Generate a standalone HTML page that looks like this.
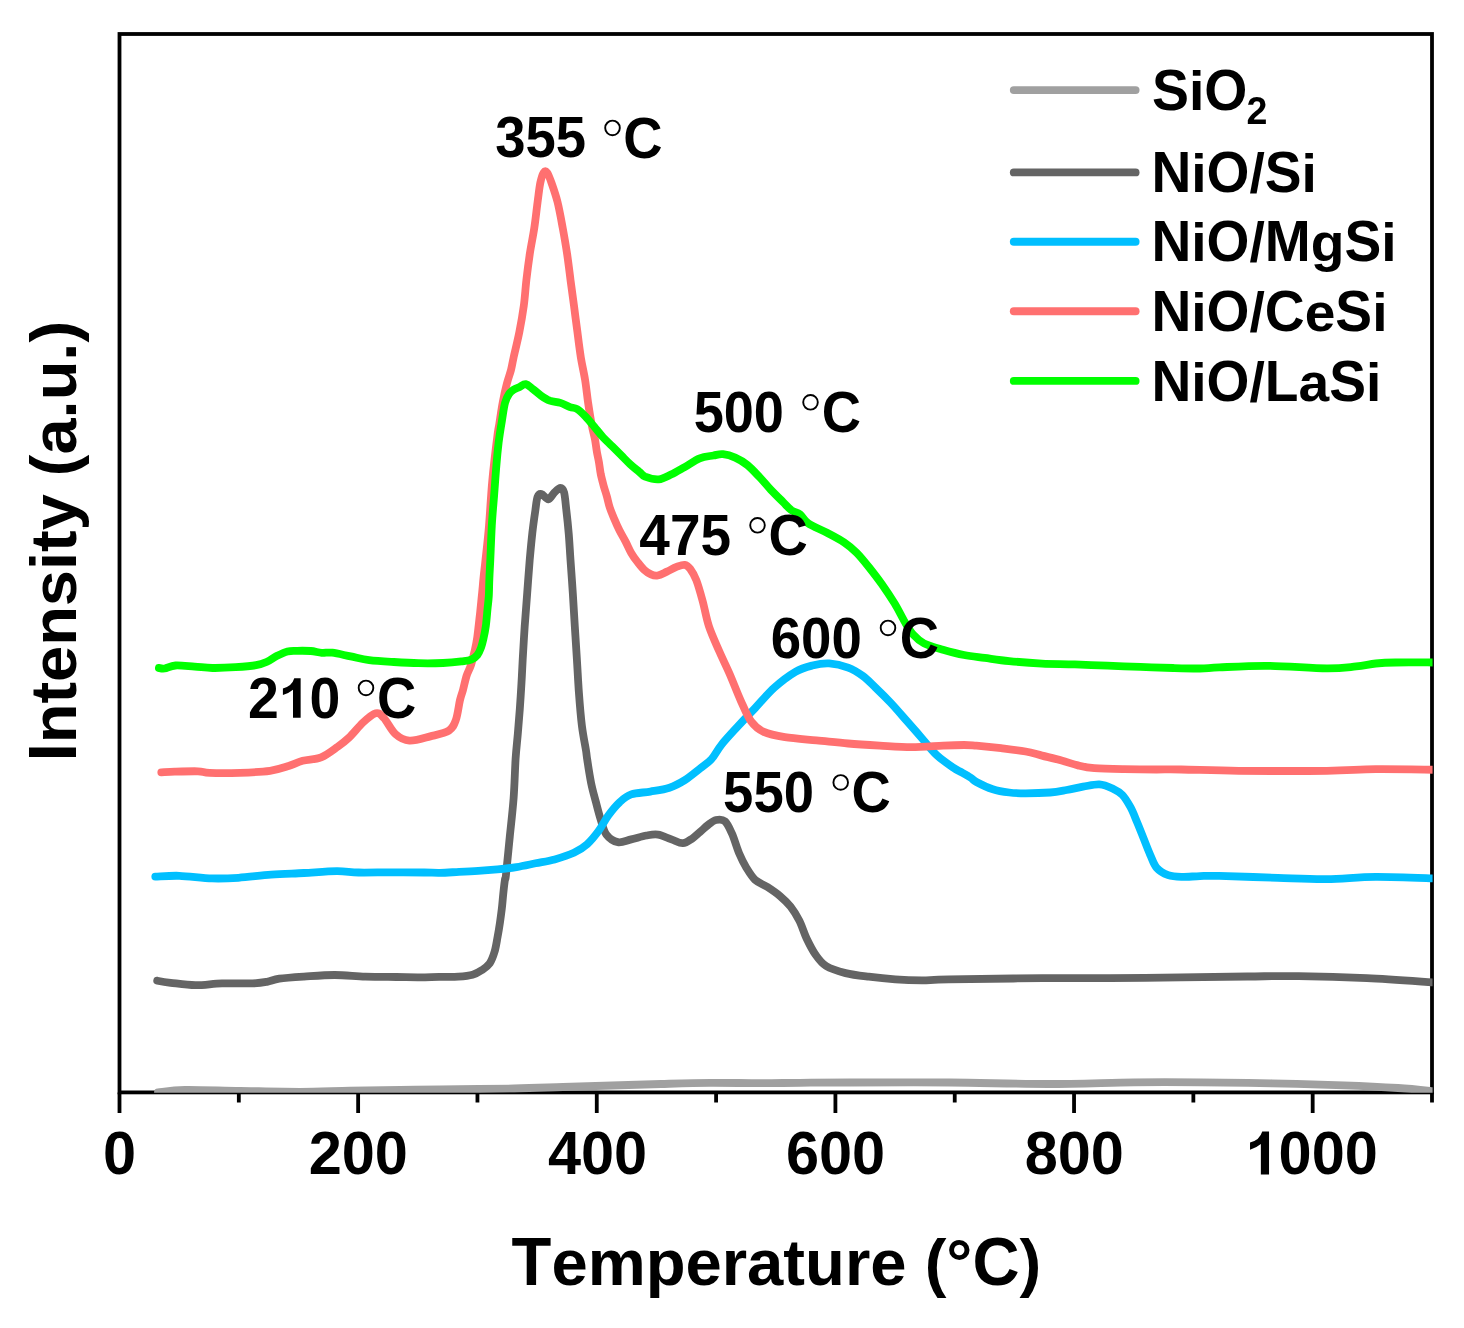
<!DOCTYPE html><html><head><meta charset="utf-8"><style>html,body{margin:0;padding:0;background:#fff;width:1464px;height:1328px;overflow:hidden}svg{display:block}text{font-family:"Liberation Sans",sans-serif;font-weight:bold;fill:#000;font-kerning:none;font-feature-settings:"kern" 0,"liga" 0}</style></head><body>
<svg width="1464" height="1328" viewBox="0 0 1464 1328">
<defs><clipPath id="pc"><rect x="119.5" y="34.0" width="1313.1" height="1058.8000000000002"/></clipPath></defs>
<rect x="119.5" y="34.0" width="1312.5" height="1058.4" fill="none" stroke="#000" stroke-width="3.8"/>
<path d="M119.50,1092.40V1112.90M238.82,1092.40V1102.40M358.14,1092.40V1112.90M477.45,1092.40V1102.40M596.77,1092.40V1112.90M716.09,1092.40V1102.40M835.41,1092.40V1112.90M954.73,1092.40V1102.40M1074.05,1092.40V1112.90M1193.36,1092.40V1102.40M1312.68,1092.40V1112.90M1432.00,1092.40V1102.40" stroke="#000" stroke-width="3.8" fill="none"/>
<g clip-path="url(#pc)" fill="none" stroke-width="7.8" stroke-linejoin="round" stroke-linecap="round">
<path d="M158.0,1092.3C162.5,1091.9 171.3,1090.1 185.0,1089.9C198.7,1089.7 220.8,1090.6 240.0,1090.9C259.2,1091.2 281.7,1091.8 300.0,1091.8C318.3,1091.8 333.3,1091.0 350.0,1090.7C366.7,1090.4 385.0,1090.1 400.0,1089.9C415.0,1089.7 421.0,1089.6 440.0,1089.4C459.0,1089.2 493.5,1088.9 514.0,1088.5C534.5,1088.1 546.7,1087.5 563.0,1087.0C579.3,1086.5 595.7,1086.0 612.0,1085.5C628.3,1085.0 644.7,1084.5 661.0,1084.0C677.3,1083.5 693.5,1082.9 710.0,1082.8C726.5,1082.7 745.0,1083.2 760.0,1083.2C775.0,1083.2 785.0,1082.9 800.0,1082.8C815.0,1082.7 825.0,1082.5 850.0,1082.5C875.0,1082.5 917.0,1082.2 950.0,1082.5C983.0,1082.8 1017.3,1084.0 1048.0,1084.0C1078.7,1084.0 1108.7,1082.6 1134.0,1082.3C1159.3,1082.0 1177.0,1082.1 1200.0,1082.3C1223.0,1082.5 1248.0,1082.8 1272.0,1083.3C1296.0,1083.8 1323.0,1084.5 1344.0,1085.3C1365.0,1086.1 1382.7,1087.0 1398.0,1088.0C1413.3,1089.0 1429.7,1090.9 1436.0,1091.5" stroke="#a0a0a0"/>
<path d="M157.2,980.7C159.4,981.1 164.3,982.0 170.7,982.8C177.0,983.5 186.8,985.1 195.3,985.2C203.9,985.3 212.4,983.7 222.0,983.4C231.6,983.1 245.2,983.7 252.7,983.4C260.2,983.1 262.6,982.6 267.0,981.8C271.4,981.0 273.2,979.6 279.3,978.7C285.4,977.8 294.7,977.2 303.9,976.6C313.1,976.0 324.4,975.0 334.7,975.0C344.9,975.0 355.2,976.3 365.4,976.6C375.6,976.9 387.0,976.9 396.1,977.0C405.2,977.1 412.8,977.3 420.0,977.3C427.2,977.3 432.7,976.9 439.1,976.8C445.5,976.7 452.7,977.0 458.3,976.6C463.9,976.2 468.6,975.8 472.6,974.7C476.6,973.6 479.3,971.8 482.2,969.9C485.1,968.0 487.7,966.2 489.8,963.2C491.9,960.2 493.3,956.0 494.6,951.7C495.9,947.4 496.6,942.2 497.5,937.4C498.4,932.6 499.2,927.8 499.9,923.0C500.6,918.2 501.2,913.5 501.8,908.7C502.4,903.9 502.7,899.1 503.2,894.3C503.7,889.5 504.4,883.3 504.9,880.0C505.4,876.7 505.2,882.0 506.0,874.7C506.8,867.5 508.5,849.2 509.8,836.5C511.1,823.8 512.6,811.2 513.6,798.2C514.6,785.2 514.9,769.5 515.6,758.8C516.3,748.1 517.1,742.3 517.8,734.0C518.5,725.7 519.2,717.4 519.8,709.1C520.4,700.8 520.9,692.6 521.4,684.3C521.9,676.0 522.2,669.1 522.7,659.4C523.2,649.7 524.0,637.3 524.7,626.3C525.5,615.2 526.4,604.1 527.2,593.1C528.0,582.1 528.9,570.0 529.7,560.0C530.6,550.0 531.4,541.5 532.3,533.3C533.2,525.1 534.4,516.8 535.3,510.7C536.2,504.6 536.5,499.8 537.5,497.0C538.5,494.2 539.7,493.6 541.5,494.0C543.3,494.4 546.2,499.5 548.3,499.3C550.4,499.1 552.3,494.5 554.3,492.6C556.3,490.7 558.8,488.0 560.4,488.0C562.0,488.0 563.1,488.8 564.1,492.6C565.1,496.4 565.6,503.9 566.4,510.7C567.2,517.5 568.0,525.1 568.7,533.3C569.4,541.5 569.8,550.0 570.5,560.0C571.2,570.0 572.1,582.1 572.8,593.1C573.5,604.1 574.1,615.2 574.8,626.3C575.5,637.3 576.2,648.4 576.9,659.4C577.6,670.4 578.1,681.5 578.9,692.5C579.7,703.5 580.7,716.0 581.9,725.7C583.1,735.4 585.1,744.8 586.0,750.5C586.9,756.2 586.4,754.6 587.3,760.0C588.1,765.4 589.7,775.9 591.1,782.9C592.5,789.9 594.3,796.0 595.9,802.1C597.5,808.2 598.9,813.9 600.6,819.3C602.4,824.7 603.5,830.8 606.4,834.6C609.3,838.4 613.8,841.4 617.9,842.2C622.0,843.0 626.4,840.5 631.2,839.4C636.0,838.3 642.0,836.3 646.5,835.5C651.0,834.7 653.9,834.0 658.0,834.6C662.1,835.2 667.2,838.0 671.4,839.4C675.5,840.8 679.4,843.4 682.9,843.2C686.4,843.0 689.5,840.3 692.4,838.4C695.2,836.5 697.4,834.2 700.0,832.0C702.6,829.8 705.3,827.0 708.0,825.0C710.7,823.0 713.2,820.6 716.0,820.0C718.8,819.4 722.2,819.0 724.9,821.3C727.6,823.6 729.6,828.4 732.0,833.7C734.4,839.0 736.7,847.7 739.1,853.3C741.5,858.9 743.5,863.1 746.2,867.5C748.9,871.9 751.6,876.6 755.1,879.9C758.6,883.1 763.4,884.3 767.5,887.0C771.6,889.7 776.0,892.6 779.9,895.9C783.8,899.2 787.4,902.5 790.6,906.6C793.9,910.8 796.7,915.5 799.4,920.8C802.1,926.1 803.9,932.9 806.6,938.5C809.3,944.1 812.1,949.9 815.4,954.5C818.6,959.1 821.1,962.9 826.1,966.0C831.1,969.1 838.5,971.3 845.6,973.1C852.7,974.9 860.4,975.7 868.7,976.7C877.0,977.8 886.4,978.8 895.3,979.4C904.2,980.0 913.1,980.3 922.0,980.3C930.9,980.3 928.5,979.8 948.6,979.4C968.7,979.0 1009.8,978.5 1042.5,978.2C1075.2,978.0 1110.8,978.2 1144.9,977.9C1179.1,977.6 1221.8,976.8 1247.4,976.5C1273.0,976.2 1278.7,975.9 1298.6,976.2C1318.5,976.5 1344.0,977.2 1366.9,978.2C1389.8,979.2 1424.5,981.8 1436.0,982.5" stroke="#646464"/>
<path d="M155.3,876.7C159.3,876.6 169.8,875.5 179.3,875.8C188.8,876.1 202.2,878.1 212.1,878.4C221.9,878.7 228.6,878.4 238.4,877.8C248.2,877.2 260.2,875.5 271.1,874.7C282.0,873.9 293.0,873.6 303.9,873.0C314.8,872.4 327.6,871.3 336.7,871.2C345.8,871.1 349.5,872.3 358.6,872.5C367.7,872.7 380.5,872.3 391.4,872.3C402.3,872.3 416.1,872.4 424.2,872.5C432.3,872.6 434.2,872.9 440.0,872.8C445.8,872.7 452.7,872.2 459.1,871.9C465.5,871.6 471.8,871.3 478.2,870.9C484.6,870.5 491.0,870.0 497.4,869.4C503.8,868.8 510.1,868.1 516.5,867.1C522.9,866.1 529.2,864.6 535.6,863.3C542.0,862.0 548.3,861.1 554.7,859.4C561.1,857.6 568.5,855.3 573.9,852.8C579.3,850.2 583.2,847.8 587.3,844.1C591.4,840.4 595.2,835.6 598.7,830.8C602.2,826.0 604.8,820.3 608.3,815.5C611.8,810.7 616.0,805.6 619.8,802.1C623.6,798.6 626.1,796.1 631.2,794.4C636.3,792.6 644.0,792.7 650.4,791.6C656.8,790.5 663.8,789.6 669.5,787.7C675.2,785.8 679.7,783.3 684.8,780.1C689.9,776.9 695.6,772.0 700.1,768.5C704.6,765.0 708.0,763.0 711.6,759.0C715.2,755.0 717.1,750.2 721.6,744.6C726.1,739.0 732.9,731.8 738.5,725.6C744.1,719.5 749.4,714.0 755.4,707.7C761.4,701.4 767.6,693.6 774.3,687.6C781.0,681.6 789.1,675.5 795.4,671.8C801.7,668.1 806.7,666.9 812.3,665.5C817.9,664.1 823.2,663.0 829.2,663.4C835.2,663.8 842.5,665.5 848.1,667.6C853.7,669.7 858.3,672.7 862.9,676.0C867.5,679.3 870.9,683.2 875.5,687.6C880.1,692.0 885.0,696.8 890.3,702.4C895.6,708.0 901.9,715.4 907.2,721.4C912.5,727.4 917.0,732.6 921.9,738.2C926.8,743.8 931.4,750.2 936.7,755.1C942.0,760.0 949.6,765.1 953.5,767.8C957.4,770.5 957.2,769.9 960.0,771.5C962.8,773.1 967.7,775.8 970.4,777.5C973.1,779.2 972.7,780.0 976.4,782.0C980.1,784.0 987.3,787.5 992.8,789.2C998.3,791.0 1003.7,791.8 1009.2,792.5C1014.7,793.2 1018.8,793.3 1025.6,793.3C1032.4,793.3 1043.4,793.0 1050.2,792.5C1057.0,792.0 1061.1,791.0 1066.6,790.0C1072.1,789.0 1077.5,787.7 1083.0,786.7C1088.5,785.8 1094.4,784.0 1099.3,784.3C1104.2,784.6 1108.7,786.6 1112.5,788.4C1116.3,790.2 1119.3,791.8 1122.3,794.9C1125.3,798.0 1128.0,802.7 1130.5,807.2C1133.0,811.7 1134.8,816.8 1137.0,822.0C1139.2,827.2 1141.4,832.9 1143.6,838.4C1145.8,843.9 1148.0,849.9 1150.2,854.8C1152.4,859.7 1153.7,864.5 1156.7,867.9C1159.7,871.3 1164.1,873.7 1168.2,875.2C1172.3,876.7 1176.0,876.8 1181.3,876.9C1186.6,877.0 1193.7,876.3 1200.0,876.1C1206.3,875.9 1206.2,875.6 1219.2,875.9C1232.2,876.2 1260.0,877.3 1277.9,877.9C1295.8,878.5 1310.5,879.4 1326.8,879.2C1343.1,879.0 1357.6,877.0 1375.8,876.9C1394.0,876.8 1426.0,878.2 1436.0,878.5" stroke="#00bfff"/>
<path d="M161.3,772.4C163.6,772.3 168.7,771.9 174.8,771.7C180.9,771.5 192.2,771.1 198.0,771.3C203.8,771.5 202.7,772.6 209.7,772.9C216.7,773.2 229.8,773.2 239.9,772.9C250.0,772.5 261.9,771.9 270.0,770.8C278.1,769.6 283.2,767.7 288.6,766.0C294.0,764.3 297.2,762.2 302.6,760.8C308.0,759.3 315.3,759.6 321.1,757.3C326.9,755.0 332.8,750.2 337.4,746.9C342.0,743.6 344.7,741.7 349.0,737.6C353.3,733.5 358.6,726.6 363.0,722.5C367.4,718.4 372.2,714.0 375.7,713.2C379.2,712.4 380.5,714.4 383.8,717.9C387.1,721.4 391.2,730.3 395.5,734.1C399.8,737.9 403.6,740.2 409.4,740.6C415.2,741.0 423.7,738.1 430.3,736.4C436.9,734.7 444.6,733.3 448.9,730.6C453.1,727.9 453.9,725.3 455.8,720.2C457.7,715.1 458.8,705.0 460.0,700.0C461.2,695.0 461.9,694.0 463.0,690.0C464.1,686.0 465.2,680.2 466.5,676.0C467.8,671.8 469.7,669.1 471.0,665.0C472.3,660.9 473.4,656.2 474.5,651.5C475.6,646.8 476.4,643.6 477.3,637.0C478.2,630.4 479.4,618.8 480.2,612.0C480.9,605.2 481.2,601.7 481.8,596.0C482.4,590.3 482.9,584.0 483.5,578.0C484.1,572.0 484.6,568.7 485.5,560.0C486.4,551.3 487.9,539.0 489.0,525.7C490.1,512.5 490.9,495.6 492.3,480.5C493.7,465.4 496.3,444.4 497.5,435.0C498.7,425.6 498.4,429.6 499.3,424.0C500.2,418.4 501.6,408.3 502.9,401.6C504.2,394.9 505.5,388.9 506.9,383.6C508.2,378.3 509.9,374.3 511.0,370.0C512.1,365.7 512.1,364.4 513.5,358.0C514.9,351.6 517.7,340.5 519.4,331.8C521.1,323.1 522.6,314.5 523.8,305.8C525.0,297.1 525.4,288.5 526.4,279.9C527.4,271.2 528.5,262.6 529.8,253.9C531.1,245.2 533.0,236.6 534.3,227.9C535.6,219.2 536.6,209.4 537.6,201.9C538.6,194.4 539.3,187.8 540.3,182.9C541.3,178.0 542.6,174.2 543.7,172.5C544.8,170.8 545.8,170.8 547.1,172.5C548.4,174.2 549.8,178.0 551.5,182.9C553.2,187.8 555.6,194.4 557.5,201.9C559.4,209.4 561.1,219.2 562.7,227.9C564.3,236.6 565.8,245.2 567.1,253.9C568.4,262.6 569.4,271.2 570.5,279.9C571.6,288.5 572.9,297.1 574.0,305.8C575.1,314.5 576.2,323.1 577.4,331.8C578.5,340.5 579.6,349.8 580.9,357.8C582.2,365.8 583.9,372.5 585.1,380.0C586.3,387.5 587.0,395.1 588.1,402.6C589.2,410.1 590.6,419.0 591.8,425.2C593.0,431.4 594.3,435.6 595.1,440.0C595.9,444.4 596.1,447.5 596.8,451.3C597.4,455.1 598.4,458.8 599.0,462.6C599.6,466.4 600.0,470.1 600.7,473.9C601.5,477.7 602.5,481.4 603.5,485.2C604.5,489.0 605.9,492.8 606.9,496.5C607.9,500.2 608.6,503.9 609.8,507.7C611.0,511.4 612.7,515.2 614.3,519.0C615.9,522.8 617.5,526.5 619.4,530.3C621.3,534.1 623.6,537.8 625.6,541.6C627.6,545.4 629.2,549.5 631.2,552.9C633.2,556.3 635.2,559.1 637.4,561.9C639.6,564.7 641.9,567.7 644.2,569.8C646.5,571.9 648.8,573.4 651.0,574.4C653.2,575.4 655.1,576.0 657.7,575.5C660.4,575.0 663.8,573.0 666.9,571.6C670.0,570.2 673.5,568.0 676.5,566.9C679.5,565.8 682.4,564.5 684.7,564.8C687.0,565.1 688.3,566.3 690.2,568.9C692.1,571.5 694.2,574.7 696.3,580.1C698.4,585.5 700.6,593.5 702.7,601.2C704.8,608.9 706.2,618.1 709.0,626.5C711.8,634.9 716.0,643.7 719.5,651.8C723.0,659.9 726.6,666.9 730.1,675.0C733.6,683.1 737.1,692.6 740.6,700.3C744.1,708.0 747.2,716.1 751.1,721.4C755.0,726.7 758.2,729.3 763.8,731.9C769.4,734.5 776.1,735.8 784.9,737.2C793.7,738.6 806.0,739.4 816.5,740.4C827.0,741.4 837.6,742.6 848.1,743.5C858.6,744.4 869.2,745.0 879.8,745.6C890.3,746.2 900.9,747.1 911.4,747.1C921.9,747.1 934.2,746.0 943.0,745.6C951.8,745.2 958.5,745.0 964.1,745.0C969.7,745.0 970.2,745.2 976.4,745.7C982.5,746.2 992.8,747.2 1001.0,748.2C1009.2,749.2 1018.8,750.3 1025.6,751.5C1032.4,752.7 1036.0,754.1 1042.0,755.6C1048.0,757.1 1055.6,758.9 1061.6,760.5C1067.6,762.1 1072.5,764.1 1078.0,765.4C1083.5,766.7 1086.8,767.6 1094.4,768.2C1102.1,768.8 1113.5,769.0 1123.9,769.2C1134.3,769.4 1147.1,769.5 1156.7,769.5C1166.3,769.5 1167.6,769.3 1181.3,769.5C1195.0,769.7 1214.5,770.6 1238.7,770.8C1263.0,771.0 1304.0,771.1 1326.8,770.8C1349.6,770.5 1357.6,769.4 1375.8,769.2C1394.0,769.0 1426.0,769.7 1436.0,769.8" stroke="#ff7070"/>
<path d="M158.9,668.0C159.8,668.1 161.8,668.9 164.6,668.5C167.4,668.1 170.5,665.8 175.5,665.5C180.5,665.2 188.4,666.2 194.6,666.6C200.8,667.0 205.6,667.9 212.4,668.0C219.2,668.1 228.3,667.7 235.6,667.2C242.9,666.7 250.9,666.1 256.1,665.2C261.3,664.3 263.6,663.2 267.0,661.7C270.4,660.2 273.2,657.7 276.6,656.0C280.0,654.3 284.1,652.3 287.5,651.4C290.9,650.5 293.2,650.9 297.1,650.8C301.0,650.7 306.7,650.7 310.8,651.0C314.9,651.3 318.1,652.5 321.7,652.8C325.3,653.1 327.5,652.1 332.3,652.7C337.1,653.3 344.6,655.2 350.7,656.4C356.8,657.6 362.0,659.2 369.2,660.1C376.4,661.0 385.6,661.5 393.8,662.0C402.0,662.5 410.2,663.0 418.4,663.2C426.6,663.4 435.8,663.3 443.0,663.0C450.2,662.7 456.7,662.0 461.4,661.4C466.1,660.8 468.5,660.7 471.2,659.6C473.9,658.5 475.8,657.0 477.4,655.0C479.0,653.0 480.1,650.2 481.1,647.5C482.1,644.8 482.7,642.0 483.5,638.5C484.3,635.0 485.1,631.3 485.8,626.3C486.5,621.2 487.1,613.2 487.6,608.2C488.1,603.2 488.5,601.0 488.8,596.0C489.1,591.0 489.1,584.0 489.4,578.0C489.6,572.0 489.9,568.7 490.3,560.0C490.7,551.3 491.2,536.4 491.8,525.7C492.4,515.0 493.3,505.7 494.1,495.6C494.9,485.6 495.6,474.2 496.4,465.4C497.1,456.6 497.7,450.3 498.6,442.8C499.5,435.3 500.9,426.9 502.0,420.3C503.1,413.7 503.8,407.4 505.0,403.0C506.2,398.6 507.5,396.2 509.0,394.0C510.5,391.8 512.2,390.7 514.0,389.5C515.8,388.3 517.8,387.9 519.7,387.0C521.7,386.1 523.4,383.7 525.7,384.1C528.0,384.5 530.8,387.5 533.3,389.4C535.8,391.3 538.0,393.5 540.8,395.4C543.5,397.3 546.5,399.4 549.8,400.7C553.1,401.9 557.0,401.8 560.4,402.9C563.8,404.0 567.2,406.1 570.0,407.1C572.8,408.1 574.4,407.4 577.0,409.0C579.6,410.6 582.6,413.5 585.5,416.5C588.4,419.5 591.6,423.5 594.5,427.0C597.4,430.5 600.1,434.1 603.1,437.3C606.1,440.5 609.2,443.3 612.2,446.3C615.2,449.3 618.2,452.3 621.2,455.3C624.2,458.3 627.3,461.6 630.3,464.4C633.3,467.2 636.8,469.8 639.3,471.9C641.8,473.9 641.9,475.4 645.1,476.7C648.3,477.9 654.4,479.8 658.7,479.4C663.0,479.0 666.7,476.7 671.0,474.6C675.3,472.6 679.9,469.8 684.7,467.1C689.5,464.4 694.9,460.2 699.7,458.3C704.5,456.4 709.5,456.2 713.4,455.5C717.3,454.8 719.4,453.8 723.0,454.2C726.6,454.6 731.1,455.8 735.2,457.6C739.3,459.4 743.4,461.8 747.5,465.1C751.6,468.4 755.9,473.3 759.8,477.4C763.7,481.5 766.9,485.6 770.8,489.7C774.7,493.8 779.6,498.6 783.0,502.0C786.4,505.4 788.5,508.1 791.3,510.2C794.1,512.2 797.2,512.1 800.0,514.3C802.8,516.5 803.6,520.1 808.1,523.2C812.6,526.3 821.0,529.5 827.0,532.7C833.0,535.9 839.0,538.9 843.9,542.2C848.8,545.5 852.4,548.5 856.6,552.7C860.8,556.9 865.0,562.2 869.2,567.5C873.4,572.8 877.7,578.3 881.9,584.3C886.1,590.3 890.6,597.0 894.5,603.3C898.4,609.6 901.8,617.0 905.0,622.3C908.2,627.6 910.3,631.4 913.5,634.9C916.7,638.4 919.1,640.9 924.0,643.4C928.9,645.9 936.3,647.8 943.0,649.7C949.7,651.6 957.2,653.6 964.1,655.0C971.0,656.4 977.1,656.9 984.6,657.9C992.1,658.9 999.6,660.1 1009.2,661.1C1018.8,662.1 1031.1,663.1 1042.0,663.6C1052.9,664.1 1063.9,664.0 1074.8,664.4C1085.7,664.8 1096.6,665.3 1107.5,665.7C1118.4,666.1 1129.4,666.5 1140.3,666.9C1151.2,667.3 1163.1,667.7 1173.1,668.0C1183.0,668.3 1192.3,668.6 1200.0,668.5C1207.7,668.4 1207.9,667.9 1219.2,667.4C1230.5,666.9 1250.2,665.6 1268.1,665.8C1286.0,666.0 1312.1,668.3 1326.8,668.4C1341.5,668.5 1348.0,667.2 1356.2,666.4C1364.4,665.6 1369.3,664.1 1375.8,663.5C1382.3,662.9 1385.3,662.7 1395.3,662.5C1405.3,662.3 1429.2,662.5 1436.0,662.5" stroke="#00ff00"/>
</g>
<text transform="translate(103.01,1174.40) scale(0.9650,1)" font-size="61.6">0</text>
<text transform="translate(308.74,1174.40) scale(0.9650,1)" font-size="61.6">200</text>
<text transform="translate(547.95,1174.40) scale(0.9650,1)" font-size="61.6">400</text>
<text transform="translate(785.95,1174.40) scale(0.9650,1)" font-size="61.6">600</text>
<text transform="translate(1024.73,1174.40) scale(0.9650,1)" font-size="61.6">800</text>
<path transform="translate(1245.53,1174.40) scale(0.02903,-0.03008)" d="M528,0L810,0L810,1425L575,1425Q488,1134 155,1060L155,820Q380,890 528,1012Z"/><text transform="translate(1278.59,1174.40) scale(0.9650,1)" font-size="61.6">000</text>
<text transform="translate(511.57,1285.10) scale(1.0000,1.0405)" font-size="65.2">T</text><text transform="translate(551.40,1285.10) scale(1.0000,0.9815)" font-size="65.2">e</text><text transform="translate(587.66,1285.10) scale(1.0000,0.9815)" font-size="65.2">m</text><text transform="translate(645.64,1285.10) scale(1.0000,0.9815)" font-size="65.2">p</text><text transform="translate(685.46,1285.10) scale(1.0000,0.9815)" font-size="65.2">e</text><text transform="translate(721.73,1285.10) scale(1.0000,0.9815)" font-size="65.2">r</text><text transform="translate(747.10,1285.10) scale(1.0000,0.9815)" font-size="65.2">a</text><text transform="translate(783.36,1285.10) scale(1.0000,1.0000)" font-size="65.2">t</text><text transform="translate(805.08,1285.10) scale(1.0000,0.9815)" font-size="65.2">u</text><text transform="translate(844.91,1285.10) scale(1.0000,0.9815)" font-size="65.2">r</text><text transform="translate(870.28,1285.10) scale(1.0000,0.9815)" font-size="65.2">e</text><text transform="translate(924.66,1285.10) scale(1.0000,1.0000)" font-size="65.2">(</text><text transform="translate(946.37,1285.10) scale(1.0000,1.0000)" font-size="65.2">°</text><text transform="translate(972.45,1285.10) scale(1.0000,1.0405)" font-size="65.2">C</text><text transform="translate(1019.53,1285.10) scale(1.0000,1.0000)" font-size="65.2">)</text>
<g transform="translate(0,1081) rotate(-90)"><text transform="translate(319.65,76.00) scale(0.9995,1.0405)" font-size="65.0">I</text><text transform="translate(337.70,76.00) scale(0.9995,0.9815)" font-size="65.0">n</text><text transform="translate(377.39,76.00) scale(0.9995,1.0000)" font-size="65.0">t</text><text transform="translate(399.03,76.00) scale(0.9995,0.9815)" font-size="65.0">e</text><text transform="translate(435.16,76.00) scale(0.9995,0.9815)" font-size="65.0">n</text><text transform="translate(474.84,76.00) scale(0.9995,0.9815)" font-size="65.0">s</text><text transform="translate(510.98,76.00) scale(0.9995,0.9879)" font-size="65.0">i</text><text transform="translate(529.03,76.00) scale(0.9995,1.0000)" font-size="65.0">t</text><text transform="translate(550.66,76.00) scale(0.9995,0.9815)" font-size="65.0">y</text><text transform="translate(604.85,76.00) scale(0.9995,1.0000)" font-size="65.0">(</text><text transform="translate(626.48,76.00) scale(0.9995,0.9815)" font-size="65.0">a</text><text transform="translate(662.61,76.00) scale(0.9995,1.0000)" font-size="65.0">.</text><text transform="translate(680.66,76.00) scale(0.9995,0.9815)" font-size="65.0">u</text><text transform="translate(720.35,76.00) scale(0.9995,1.0000)" font-size="65.0">.</text><text transform="translate(738.40,76.00) scale(0.9995,1.0000)" font-size="65.0">)</text></g>
<line x1="1013.8" y1="90.1" x2="1135.6000000000001" y2="90.1" stroke="#a0a0a0" stroke-width="7.9" stroke-linecap="round"/>
<line x1="1013.8" y1="172.4" x2="1135.6000000000001" y2="172.4" stroke="#646464" stroke-width="7.9" stroke-linecap="round"/>
<line x1="1013.8" y1="241.7" x2="1135.6000000000001" y2="241.7" stroke="#00bfff" stroke-width="7.9" stroke-linecap="round"/>
<line x1="1013.8" y1="311.2" x2="1135.6000000000001" y2="311.2" stroke="#ff7070" stroke-width="7.9" stroke-linecap="round"/>
<line x1="1013.8" y1="380.9" x2="1135.6000000000001" y2="380.9" stroke="#00ff00" stroke-width="7.9" stroke-linecap="round"/>
<text transform="translate(1151.41,191.50) scale(0.9995,1.0405)" font-size="55.2">N</text><text transform="translate(1191.25,191.50) scale(0.9995,0.9879)" font-size="55.2">i</text><text transform="translate(1206.58,191.50) scale(0.9995,1.0405)" font-size="55.2">O</text><text transform="translate(1249.50,191.50) scale(0.9995,1.0000)" font-size="55.2">/</text><text transform="translate(1264.83,191.50) scale(0.9995,1.0405)" font-size="55.2">S</text><text transform="translate(1301.62,191.50) scale(0.9995,0.9879)" font-size="55.2">i</text>
<text transform="translate(1151.41,261.30) scale(0.9995,1.0405)" font-size="55.2">N</text><text transform="translate(1191.25,261.30) scale(0.9995,0.9879)" font-size="55.2">i</text><text transform="translate(1206.58,261.30) scale(0.9995,1.0405)" font-size="55.2">O</text><text transform="translate(1249.50,261.30) scale(0.9995,1.0000)" font-size="55.2">/</text><text transform="translate(1264.83,261.30) scale(0.9995,1.0405)" font-size="55.2">M</text><text transform="translate(1310.78,261.30) scale(0.9995,0.9815)" font-size="55.2">g</text><text transform="translate(1344.49,261.30) scale(0.9995,1.0405)" font-size="55.2">S</text><text transform="translate(1381.29,261.30) scale(0.9995,0.9879)" font-size="55.2">i</text>
<text transform="translate(1151.41,331.10) scale(0.9995,1.0405)" font-size="55.2">N</text><text transform="translate(1191.25,331.10) scale(0.9995,0.9879)" font-size="55.2">i</text><text transform="translate(1206.58,331.10) scale(0.9995,1.0405)" font-size="55.2">O</text><text transform="translate(1249.50,331.10) scale(0.9995,1.0000)" font-size="55.2">/</text><text transform="translate(1264.83,331.10) scale(0.9995,1.0405)" font-size="55.2">C</text><text transform="translate(1304.67,331.10) scale(0.9995,0.9815)" font-size="55.2">e</text><text transform="translate(1335.35,331.10) scale(0.9995,1.0405)" font-size="55.2">S</text><text transform="translate(1372.15,331.10) scale(0.9995,0.9879)" font-size="55.2">i</text>
<text transform="translate(1151.41,400.90) scale(0.9995,1.0405)" font-size="55.2">N</text><text transform="translate(1191.25,400.90) scale(0.9995,0.9879)" font-size="55.2">i</text><text transform="translate(1206.58,400.90) scale(0.9995,1.0405)" font-size="55.2">O</text><text transform="translate(1249.50,400.90) scale(0.9995,1.0000)" font-size="55.2">/</text><text transform="translate(1264.83,400.90) scale(0.9995,1.0405)" font-size="55.2">L</text><text transform="translate(1298.53,400.90) scale(0.9995,0.9815)" font-size="55.2">a</text><text transform="translate(1329.21,400.90) scale(0.9995,1.0405)" font-size="55.2">S</text><text transform="translate(1366.01,400.90) scale(0.9995,0.9879)" font-size="55.2">i</text>
<text transform="translate(1152.00,110.10) scale(0.9995,1.0405)" font-size="55.45">S</text><text transform="translate(1188.97,110.10) scale(0.9995,0.9879)" font-size="55.45">i</text><text transform="translate(1204.37,110.10) scale(0.9995,1.0405)" font-size="55.45">O</text>
<text style="will-change:transform" transform="translate(1246.40,124.30) scale(0.9990,1.0200)" font-size="37.6">2</text>
<text transform="translate(495.15,157.40) scale(0.9605,1)" font-size="56.7">355</text>
<circle cx="612.5" cy="127.9" r="7.3" fill="none" stroke="#000" stroke-width="1.9"/>
<text transform="translate(623.27,157.80) scale(0.9580,1.025)" font-size="56.7">C</text>
<text transform="translate(693.63,432.00) scale(0.9555,1)" font-size="56.7">500</text>
<circle cx="810.5" cy="402.3" r="7.3" fill="none" stroke="#000" stroke-width="1.9"/>
<text transform="translate(821.87,432.40) scale(0.9580,1.025)" font-size="56.7">C</text>
<text transform="translate(639.37,554.50) scale(0.9689,1)" font-size="56.7">475</text>
<circle cx="757.5" cy="525.3" r="7.3" fill="none" stroke="#000" stroke-width="1.9"/>
<text transform="translate(768.47,554.90) scale(0.9580,1.025)" font-size="56.7">C</text>
<text transform="translate(770.70,658.00) scale(0.9645,1)" font-size="56.7">600</text>
<circle cx="888.0" cy="627.9" r="7.3" fill="none" stroke="#000" stroke-width="1.9"/>
<text transform="translate(899.87,658.40) scale(0.9580,1.025)" font-size="56.7">C</text>
<text transform="translate(247.88,717.80) scale(0.9777,1)" font-size="56.7">2</text><path transform="translate(278.71,717.80) scale(0.02707,-0.02769)" d="M528,0L810,0L810,1425L575,1425Q488,1134 155,1060L155,820Q380,890 528,1012Z"/><text transform="translate(309.54,717.80) scale(0.9777,1)" font-size="56.7">0</text>
<circle cx="366.0" cy="687.9" r="7.3" fill="none" stroke="#000" stroke-width="1.9"/>
<text transform="translate(377.07,718.20) scale(0.9580,1.025)" font-size="56.7">C</text>
<text transform="translate(723.12,812.00) scale(0.9610,1)" font-size="56.7">550</text>
<circle cx="840.7" cy="782.4" r="7.3" fill="none" stroke="#000" stroke-width="1.9"/>
<text transform="translate(851.47,812.40) scale(0.9580,1.025)" font-size="56.7">C</text>
</svg></body></html>
